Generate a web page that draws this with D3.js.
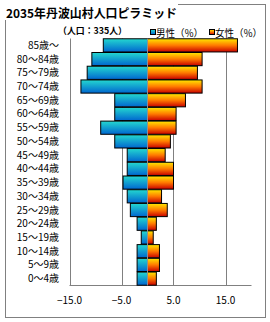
<!DOCTYPE html>
<html><head><meta charset="utf-8">
<script src="https://cdn.jsdelivr.net/npm/d3@7"></script>
<style>body{margin:0;background:#fff}svg{display:block}</style>
</head><body>
<svg id="c" width="270" height="322"></svg>
<script>
const categories = ["85歳～","80～84歳","75～79歳","70～74歳","65～69歳","60～64歳","55～59歳","50～54歳","45～49歳","40～44歳","35～39歳","30～34歳","25～29歳","20～24歳","15～19歳","10～14歳","5～9歳","0～4歳"];
const male   = [8.5, 10.7, 11.6, 12.8, 6.3, 6.3, 9.0, 6.3, 3.9, 3.9, 4.7, 3.9, 3.3, 2.0, 1.2, 2.0, 2.0, 2.0];
const female = [17.3, 10.5, 9.6, 10.5, 7.3, 5.5, 5.5, 4.4, 3.4, 5.0, 5.0, 2.7, 3.8, 1.7, 1.1, 2.3, 2.3, 1.7];
const tickValues = [-15, -5, 5, 15];
const title = "2035年丹波山村人口ピラミッド";
const subtitle = "（人口：335人）";
const seriesNames = ["男性（%）", "女性（%）"];

const svg = d3.select("#c");
const font = "'Noto Sans CJK JP', sans-serif";
const defs = svg.append("defs");
const gm = defs.append("linearGradient").attr("id","gm").attr("x1",0).attr("y1",0).attr("x2",0).attr("y2",1);
gm.append("stop").attr("offset","0%").attr("stop-color","#24d8d0");
gm.append("stop").attr("offset","100%").attr("stop-color","#0066cf");
const gf = defs.append("linearGradient").attr("id","gf").attr("x1",0).attr("y1",0).attr("x2",0).attr("y2",1);
gf.append("stop").attr("offset","0%").attr("stop-color","#ffe800");
gf.append("stop").attr("offset","50%").attr("stop-color","#ff7a00");
gf.append("stop").attr("offset","100%").attr("stop-color","#c80000");

// outer border
svg.append("rect").attr("x",5.5).attr("y",4.5).attr("width",260).attr("height",313)
  .attr("fill","none").attr("stroke","#808080").attr("stroke-width",1);

const x = d3.scaleLinear().domain([-15, 20]).range([69.5, 251.5]);
const y = d3.scaleBand().domain(categories).range([38.5, 285.5]).paddingInner(0.04).paddingOuter(0.02);
const plotTop = 38.5, plotBottom = 285.5;

// gridlines
svg.append("g").selectAll("line").data(tickValues).join("line")
  .attr("x1", d => Math.round(x(d)) + 0.5).attr("x2", d => Math.round(x(d)) + 0.5)
  .attr("y1", plotTop).attr("y2", plotBottom)
  .attr("stroke","#808080").attr("stroke-width",1);
// bottom axis line
svg.append("line").attr("x1", x(-15)).attr("x2", x(20)).attr("y1", plotBottom).attr("y2", plotBottom)
  .attr("stroke","#808080");

// bars
const rows = categories.map((c,i) => ({c, m: male[i], f: female[i]}));
svg.append("g").selectAll("rect").data(rows).join("rect")
  .attr("x", d => x(-d.m)).attr("width", d => x(0) - x(-d.m))
  .attr("y", d => y(d.c)).attr("height", y.bandwidth())
  .attr("fill","url(#gm)").attr("stroke","#000").attr("stroke-width",1);
svg.append("g").selectAll("rect").data(rows).join("rect")
  .attr("x", x(0)).attr("width", d => x(d.f) - x(0))
  .attr("y", d => y(d.c)).attr("height", y.bandwidth())
  .attr("fill","url(#gf)").attr("stroke","#000").attr("stroke-width",1);
// zero line on top
svg.append("line").attr("x1", x(0)).attr("x2", x(0))
  .attr("y1", plotTop).attr("y2", plotBottom).attr("stroke","#909090");

// category labels
svg.append("g").selectAll("text").data(categories).join("text")
  .attr("x", 59).attr("y", d => y(d) + y.bandwidth()/2 + 3.5)
  .attr("text-anchor","end").attr("font-family",font).attr("font-size",10).attr("fill","#000")
  .text(d => d);

// tick labels
svg.append("g").selectAll("text").data(tickValues).join("text")
  .attr("x", d => x(d)).attr("y", 304)
  .attr("text-anchor","middle").attr("font-family",font).attr("font-size",10).attr("fill","#000")
  .text(d => d3.format(".1f")(d).replace("-", "－"));

// title with white box
svg.append("rect").attr("x",0).attr("y",0).attr("width",178).attr("height",20).attr("fill","#fff");
svg.append("text").attr("x",6).attr("y",18).attr("font-family",font).attr("font-size",12).attr("font-weight","bold")
  .attr("textLength",171).attr("lengthAdjust","spacingAndGlyphs").text(title);
svg.append("text").attr("x",58).attr("y",34).attr("font-family",font).attr("font-size",9).attr("font-weight","bold")
  .attr("textLength",69).attr("lengthAdjust","spacingAndGlyphs").text(subtitle);

// legend
const lg = [{n: seriesNames[0], g:"url(#gm)", x:150}, {n: seriesNames[1], g:"url(#gf)", x:209}];
lg.forEach(l => {
  svg.append("rect").attr("x", l.x+0.5).attr("y", 29.5).attr("width",5).attr("height",5)
    .attr("fill", l.g).attr("stroke","#000");
  svg.append("text").attr("x", l.x+6).attr("y", 36.5).attr("font-family",font).attr("font-size",10)
    .attr("textLength",47).attr("lengthAdjust","spacingAndGlyphs").text(l.n);
});
</script>
</body></html>
